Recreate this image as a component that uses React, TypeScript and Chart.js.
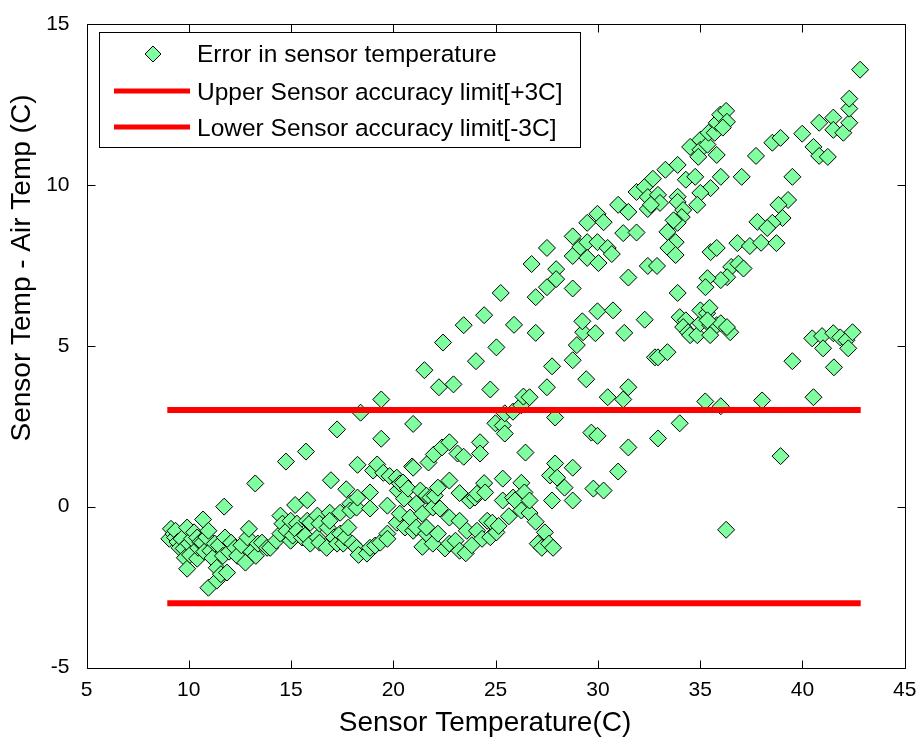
import React, { useEffect, useRef } from "react";
import { Chart, registerables } from "chart.js";

Chart.register(...registerables);

// ---------- data ----------
// lower-left cluster, 9 .. 15.2 C
const tempA = [9.05, 9.13, 9.25, 9.33, 9.35, 9.45, 9.55, 9.65, 9.75, 9.81, 9.92, 9.92, 10.0, 10.06, 10.16, 10.26, 10.41, 10.41, 10.46, 10.56, 10.66, 10.7, 10.76, 10.86, 10.96, 10.96, 11.06, 11.16, 11.27, 11.37, 11.37, 11.47, 11.57, 11.67, 11.73, 11.77, 11.87, 11.97, 12.07, 12.27, 12.37, 12.57, 12.77, 12.87, 12.94, 13.07, 13.25, 13.28, 13.38, 13.58, 13.83, 13.98, 14.28, 14.48, 14.48, 14.58, 14.75, 14.78, 14.98, 14.98, 15.08, 15.2];
const errA = [-1.0, -0.69, -0.85, -0.96, -0.75, -1.1, -1.28, -1.0, -1.3, -1.59, -0.65, -1.93, -1.15, -1.5, -1.0, -0.8, -0.96, -1.62, -1.28, -1.1, -1.12, -0.4, -1.4, -0.95, -0.75, -2.52, -1.37, -1.6, -1.15, -1.9, -2.3, -1.2, -2.1, -1.53, 0.0, -0.96, -2.05, -1.4, -1.12, -1.28, -1.53, -1.2, -1.74, -0.96, -0.69, -1.4, 0.72, -1.53, -1.15, -1.12, -1.28, -1.28, -1.06, -0.84, -0.28, -0.53, 1.4, -0.75, -0.44, -1.06, -0.9, 0.05];

// 15.3 .. 18.4 C
const tempB = [15.29, 15.29, 15.54, 15.69, 15.73, 15.79, 15.79, 15.94, 15.94, 16.29, 16.29, 16.39, 16.39, 16.74, 16.79, 16.89, 16.89, 16.95, 17.1, 17.25, 17.25, 17.4, 17.4, 17.55, 17.65, 17.7, 17.8, 17.9, 17.9, 18.0, 18.2, 18.2, 18.25, 18.25, 18.3, 18.4];
const errB = [-0.53, -0.75, -0.96, -0.9, 1.71, 0.2, -0.44, -0.5, -1.15, -0.28, -0.96, -0.53, -1.12, -1.28, -0.65, -0.19, -0.44, 0.82, -0.96, 2.4, -1.15, -0.19, -0.84, -1.15, -0.96, 0.54, -0.65, 0.09, -0.12, -1.15, -0.03, -1.28, 1.3, 0.28, -1.5, 2.92];

// 18.7 .. 22 C
const tempC = [18.71, 18.86, 18.86, 18.86, 19.01, 19.11, 19.21, 19.36, 19.41, 19.41, 19.51, 19.71, 19.71, 19.71, 19.82, 20.17, 20.17, 20.22, 20.32, 20.32, 20.47, 20.52, 20.57, 20.72, 20.82, 20.92, 20.97, 20.97, 20.97, 21.12, 21.12, 21.32, 21.42, 21.42, 21.52, 21.62, 21.62, 21.62, 21.72, 21.82, 21.93, 21.93, 21.98, 22.03];
const errC = [-1.46, 0.44, -0.06, -1.28, 1.12, -1.21, 1.31, -1.12, 2.11, 3.33, 1.05, 0.03, -0.84, -1.0, 0.95, 0.9, -0.5, 0.5, 0.72, -0.22, 0.75, 0.25, -0.65, 0.56, -0.34, 1.25, 2.57, 1.21, -0.75, 0.09, -0.65, 0.5, -0.22, -1.25, 4.24, 0.34, -0.84, -0.65, 1.37, 0.28, -0.03, -1.15, 1.62, 0.34];

// 22.2 .. 25.5 C
const tempD = [22.18, 22.18, 22.23, 22.28, 22.38, 22.43, 22.53, 22.74, 22.74, 22.74, 22.74, 22.94, 23.04, 23.14, 23.24, 23.24, 23.24, 23.44, 23.44, 23.54, 23.59, 23.74, 23.84, 23.99, 24.04, 24.09, 24.09, 24.24, 24.24, 24.34, 24.44, 24.44, 24.49, 24.59, 24.74, 24.74, 24.84, 24.99, 25.04, 25.04, 25.15, 25.25, 25.35, 25.35, 25.35, 25.45, 25.45];
const errD = [0.59, -0.84, 3.71, -0.06, 1.84, 5.1, -1.3, 2.0, 0.81, -0.34, -1.15, 3.8, -1.06, 1.65, 0.42, -0.44, -1.37, 5.64, 1.55, -1.45, -0.75, 0.19, -1.2, 0.28, 4.52, 0.4, -0.75, 2.0, 1.65, -1.0, 5.95, 0.73, 0.44, -0.44, 3.64, -0.95, -0.5, 2.59, 4.95, -0.8, -0.6, 6.64, 2.52, 0.87, 0.19, 2.9, 2.27];

// 25.6 .. 28.4 C
const tempE = [25.65, 25.85, 25.85, 25.9, 25.95, 26.26, 26.26, 26.26, 26.36, 26.41, 26.46, 26.66, 26.66, 26.66, 26.76, 26.96, 26.96, 26.96, 27.06, 27.26, 27.41, 27.51, 27.51, 27.51, 27.61, 27.66, 27.76, 27.76, 27.81, 27.91, 27.91, 27.96, 27.96, 28.01, 28.37];
const errE = [-0.3, 2.95, 0.28, 5.65, 0.19, 3.15, 0.74, -0.12, 3.42, 0.44, 1.68, 3.4, -0.2, 0.19, 7.54, -0.47, 5.4, 6.51, -1.15, -1.28, -0.8, 3.71, 8.04, 6.82, -1.15, 0.97, 4.36, 0.19, -1.28, 2.77, 1.34, 7.38, 7.07, 0.9, 0.59];

// upper diagonal band, 28.8 .. 36.3 C
const tempF = [28.77, 28.77, 28.77, 29.14, 29.48, 29.48, 29.48, 29.98, 29.98, 30.03, 30.28, 30.48, 30.68, 30.99, 31.49, 31.24, 31.89, 31.49, 31.89, 32.29, 32.69, 32.44, 32.44, 32.94, 33.04, 32.59, 32.44, 32.89, 33.3, 33.9, 34.3, 34.76, 34.51, 35.01, 35.01, 34.91, 35.36, 35.41, 35.71, 35.81, 35.98, 36.27, 36.31, 36.11, 35.81, 36.01, 35.51, 35.01, 34.86, 33.9, 33.9, 34.17, 34.1, 33.9, 33.7, 33.8, 33.4, 33.45, 33.8, 33.9];
const errF = [6.78, 7.79, 8.4, 8.07, 8.82, 8.22, 7.73, 9.1, 8.22, 7.57, 8.84, 8.04, 7.85, 9.38, 9.16, 8.5, 8.52, 7.12, 9.78, 9.94, 10.19, 9.62, 9.25, 9.69, 9.44, 9.38, 7.48, 7.48, 10.47, 10.62, 10.16, 10.25, 11.18, 11.4, 11.09, 10.87, 11.25, 11.62, 11.62, 11.93, 12.18, 12.3, 11.96, 11.78, 10.93, 10.25, 9.9, 9.75, 9.38, 9.63, 9.47, 9.22, 9.0, 8.82, 8.9, 8.22, 8.54, 8.04, 7.82, 6.64];

// middle band, 28.8 .. 34 C
const tempG = [28.77, 28.97, 29.28, 29.24, 29.88, 29.98, 30.74, 31.29, 32.29, 32.79, 32.94, 33.4, 29.43, 30.48, 31.24, 31.49, 29.68, 29.98, 28.77, 29.78, 30.28, 30.99, 31.49, 32.94, 34.0, 28.77];
const errG = [4.55, 5.02, 5.42, 5.76, 5.39, 6.07, 6.1, 5.4, 5.81, 4.64, 4.64, 4.8, 3.96, 3.4, 3.33, 3.71, 2.3, 2.2, 1.21, 0.56, 0.5, 1.09, 1.84, 2.12, 2.59, 0.19];

// 34 .. 37.2 C
const tempH = [34.0, 34.3, 34.17, 34.41, 34.51, 34.86, 35.01, 35.01, 35.34, 35.46, 35.49, 35.81, 35.49, 36.47, 36.01, 36.31, 35.36, 35.51, 35.81, 36.82, 36.52, 36.87, 37.12, 36.32, 36.01, 35.36, 35.26, 35.25, 36.01, 36.27];
const errH = [5.89, 5.79, 5.58, 5.42, 5.33, 5.33, 5.7, 6.1, 6.01, 6.18, 5.64, 5.64, 5.33, 5.42, 5.7, 5.58, 5.79, 7.91, 8.04, 8.19, 7.45, 7.55, 7.4, 7.13, 7.04, 7.1, 6.82, 3.27, 3.12, -0.72];

// right side, 37 .. 42.8 C
const tempI = [37.03, 37.73, 38.53, 38.93, 39.51, 39.3, 38.83, 39.03, 38.53, 37.8, 38.28, 37.43, 37.98, 38.73, 38.03, 38.93, 39.51, 40.54, 39.99, 40.54, 40.82, 41.24, 40.82, 41.51, 41.51, 42.0, 42.29, 42.29, 42.29, 42.82, 40.48, 40.96, 41.51, 41.85, 42.15, 42.45, 41.01, 42.24, 41.54];
const errI = [10.25, 10.9, 11.31, 11.46, 10.25, 9.53, 9.38, 8.97, 8.82, 8.85, 8.66, 8.1, 8.2, 8.19, 3.3, 1.57, 4.52, 3.4, 11.59, 11.18, 10.9, 10.87, 11.93, 12.09, 11.71, 11.62, 11.93, 12.37, 12.68, 13.58, 5.23, 5.3, 5.39, 5.26, 5.17, 5.42, 4.92, 4.92, 4.33];

const sensorTemp = [...tempA, ...tempB, ...tempC, ...tempD, ...tempE, ...tempF, ...tempG, ...tempH, ...tempI];
const tempError = [...errA, ...errB, ...errC, ...errD, ...errE, ...errF, ...errG, ...errH, ...errI];

// accuracy limits
const limitTemp = [8.95, 42.85];
const upperLimit = [3, 3];
const lowerLimit = [-3, -3];

// axes
const xTicks = [5, 10, 15, 20, 25, 30, 35, 40, 45];
const yTicks = [-5, 0, 5, 10, 15];
const seriesLabels = [
  "Error in sensor temperature",
  "Upper Sensor accuracy limit[+3C]",
  "Lower Sensor accuracy limit[-3C]",
];
const xTitle = "Sensor Temperature(C)";
const yTitle = "Sensor Temp - Air Temp (C)";

// ---------- styles ----------
const FONT = '"Liberation Sans", Arial, Helvetica, sans-serif';
const MARKER_FILL = "rgb(127,255,159)";
const LIMIT_RED = "#ff0000";
const MARKER_R = 8.5;

const framePlugin = {
  id: "matlabFrame",
  afterDraw(chart: any) {
    const { ctx, chartArea: a, scales } = chart;
    const xs = scales.x;
    const ys = scales.y;
    ctx.save();
    // axes box
    ctx.strokeStyle = "#000";
    ctx.lineWidth = 1;
    const L = Math.round(a.left) + 0.5;
    const T = Math.round(a.top) + 0.5;
    const R = Math.round(a.right) + 0.5;
    const B = Math.round(a.bottom) + 0.5;
    ctx.beginPath();
    ctx.rect(L, T, R - L, B - T);
    ctx.stroke();
    // inward tick marks on all four sides
    const TL = 8;
    ctx.beginPath();
    xTicks.forEach((v) => {
      const px = Math.round(xs.getPixelForValue(v)) + 0.5;
      ctx.moveTo(px, B);
      ctx.lineTo(px, B - TL);
      ctx.moveTo(px, T);
      ctx.lineTo(px, T + TL);
    });
    yTicks.forEach((v) => {
      const py = Math.round(ys.getPixelForValue(v)) + 0.5;
      ctx.moveTo(L, py);
      ctx.lineTo(L + TL, py);
      ctx.moveTo(R, py);
      ctx.lineTo(R - TL, py);
    });
    ctx.stroke();

    // axis titles
    ctx.fillStyle = "#000";
    ctx.font = `28px ${FONT}`;
    ctx.textAlign = "center";
    ctx.textBaseline = "middle";
    ctx.fillText(xTitle, 485, 723);
    ctx.save();
    ctx.translate(22, 268);
    ctx.rotate(-Math.PI / 2);
    ctx.fillText(yTitle, 0, 0);
    ctx.restore();

    // legend box
    const lx = 99.5, ly = 32.5, lw = 481, lh = 115;
    ctx.fillStyle = "#fff";
    ctx.fillRect(lx, ly, lw, lh);
    ctx.strokeStyle = "#000";
    ctx.lineWidth = 1;
    ctx.strokeRect(lx, ly, lw, lh);

    const ds = chart.data.datasets;
    const rows = [55, 93, 129];
    // marker entry
    const mx = 153, my = rows[0] - 1;
    const r = 8;
    ctx.beginPath();
    ctx.moveTo(mx - r, my);
    ctx.lineTo(mx, my - r);
    ctx.lineTo(mx + r, my);
    ctx.lineTo(mx, my + r);
    ctx.closePath();
    ctx.fillStyle = ds[0].backgroundColor;
    ctx.fill();
    ctx.strokeStyle = ds[0].borderColor;
    ctx.lineWidth = 1;
    ctx.stroke();
    // line entries
    [1, 2].forEach((i) => {
      ctx.beginPath();
      ctx.strokeStyle = ds[i].borderColor;
      ctx.lineWidth = 5;
      ctx.lineCap = "butt";
      ctx.moveTo(114, rows[i] - 2);
      ctx.lineTo(190, rows[i] - 2);
      ctx.stroke();
    });
    // texts
    ctx.fillStyle = "#000";
    ctx.font = `24.5px ${FONT}`;
    ctx.textAlign = "left";
    ctx.textBaseline = "middle";
    ds.forEach((d: any, i: number) => {
      ctx.fillText(d.label, 197, rows[i]);
    });
    ctx.restore();
  },
};

export default function App() {
  const canvasRef = useRef<HTMLCanvasElement | null>(null);

  useEffect(() => {
    const canvas = canvasRef.current;
    if (!canvas) return;
    const points = sensorTemp.map((x, i) => ({ x, y: tempError[i] }));
    const upper = limitTemp.map((x, i) => ({ x, y: upperLimit[i] }));
    const lower = limitTemp.map((x, i) => ({ x, y: lowerLimit[i] }));
    const tickFont = { family: FONT, size: 21 };

    const chart = new Chart(canvas, {
      type: "scatter",
      data: {
        datasets: [
          {
            label: seriesLabels[0],
            data: points,
            pointStyle: "rectRot",
            pointRadius: MARKER_R,
            pointHoverRadius: MARKER_R,
            backgroundColor: MARKER_FILL,
            borderColor: "#000000",
            borderWidth: 1,
            showLine: false,
            order: 2,
          },
          {
            label: seriesLabels[1],
            data: upper,
            showLine: true,
            borderColor: LIMIT_RED,
            backgroundColor: LIMIT_RED,
            borderWidth: 6,
            borderCapStyle: "butt",
            pointRadius: 0,
            pointHoverRadius: 0,
            order: 1,
          },
          {
            label: seriesLabels[2],
            data: lower,
            showLine: true,
            borderColor: LIMIT_RED,
            backgroundColor: LIMIT_RED,
            borderWidth: 6,
            borderCapStyle: "butt",
            pointRadius: 0,
            pointHoverRadius: 0,
            order: 1,
          },
        ],
      } as any,
      options: {
        animation: false,
        responsive: false,
        maintainAspectRatio: false,
        events: [],
        layout: { autoPadding: false, padding: { top: 24, right: 17.3, left: 0, bottom: 0 } },
        plugins: {
          legend: { display: false },
          tooltip: { enabled: false },
          title: { display: false },
        },
        scales: {
          x: {
            type: "linear",
            min: 5,
            max: 45,
            afterBuildTicks: (s: any) => {
              s.ticks = xTicks.map((v) => ({ value: v }));
            },
            afterFit: (s: any) => {
              s.height = 74.5;
              s.paddingLeft = 0;
              s.paddingRight = 0;
              s.paddingTop = 0;
              s.paddingBottom = 0;
            },
            grid: { display: false, drawTicks: false },
            border: { display: false },
            ticks: {
              color: "#000",
              font: tickFont,
              padding: 10,
              maxRotation: 0,
              autoSkip: false,
            },
          },
          y: {
            type: "linear",
            min: -5,
            max: 15,
            afterBuildTicks: (s: any) => {
              s.ticks = yTicks.map((v) => ({ value: v }));
            },
            afterFit: (s: any) => {
              s.width = 86.5;
              s.paddingLeft = 0;
              s.paddingRight = 0;
              s.paddingTop = 0;
              s.paddingBottom = 0;
            },
            grid: { display: false, drawTicks: false },
            border: { display: false },
            ticks: {
              color: "#000",
              font: tickFont,
              padding: 17,
              autoSkip: false,
            },
          },
        },
      } as any,
      plugins: [framePlugin],
    });
    return () => chart.destroy();
  }, []);

  return (
    <div style={{ position: "fixed", left: 0, top: 0, width: 922, height: 742, background: "#fff" }}>
      <canvas ref={canvasRef} width={922} height={742} style={{ display: "block" }} />
    </div>
  );
}
